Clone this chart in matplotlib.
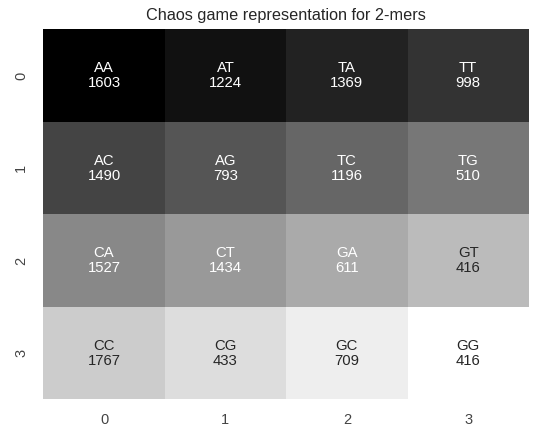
import numpy as np
import matplotlib
matplotlib.use("Agg")
import matplotlib.pyplot as plt
import seaborn as sns

kmers = [["AA", "AT", "TA", "TT"],
         ["AC", "AG", "TC", "TG"],
         ["CA", "CT", "GA", "GT"],
         ["CC", "CG", "GC", "GG"]]
counts = [[1603, 1224, 1369, 998],
          [1490, 793, 1196, 510],
          [1527, 1434, 611, 416],
          [1767, 433, 709, 416]]
# cell shading follows position in the CGR grid
order = [[0, 1, 2, 3],
         [4, 5, 6, 7],
         [8, 9, 10, 11],
         [12, 13, 14, 15]]

sns.set_theme(style="white")
plt.rcParams["font.family"] = ["Liberation Sans", "DejaVu Sans"]

annot = np.array([[f"{k}\n{c}" for k, c in zip(kr, cr)] for kr, cr in zip(kmers, counts)])

fig = plt.figure(figsize=(5.36, 4.28), dpi=100)
ax = fig.add_axes([0.0808, 0.067, 0.906, 0.8645])
sns.heatmap(np.array(order), annot=annot, fmt="", cmap="gray", cbar=False,
            ax=ax, annot_kws={"fontsize": 10.7, "linespacing": 1.1})
ax.set_title("Chaos game representation for 2-mers", fontsize=11.7, pad=7)
ax.tick_params(axis="x", labelsize=10.5, length=0, pad=10, labelcolor="#444444")
ax.tick_params(axis="y", labelsize=10.5, length=0, pad=11, labelcolor="#444444")
fig.savefig("out.png", dpi=100)
